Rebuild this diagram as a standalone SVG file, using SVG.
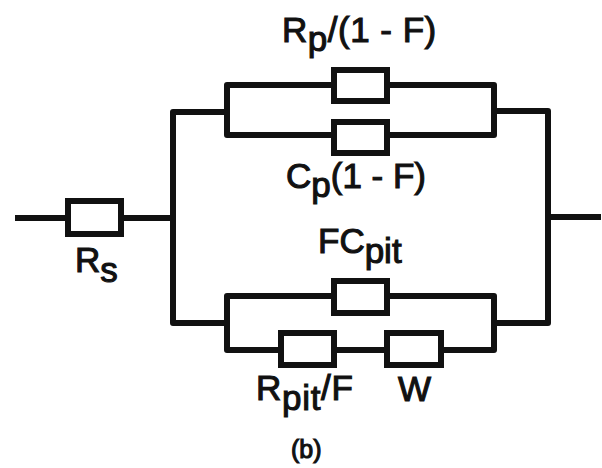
<svg xmlns="http://www.w3.org/2000/svg" width="602" height="468" viewBox="0 0 602 468">
<style>
.w{fill:none;stroke:#111;stroke-width:6;stroke-linejoin:round;stroke-linecap:butt}
.b{fill:#fff;stroke:#111;stroke-width:6}
text{font-family:"Liberation Sans",Arial,sans-serif;fill:#111;stroke:#111;stroke-width:1.1px}
.l{font-size:35px}
</style>
<rect width="602" height="468" fill="#fff"/>
<g id="connectors">
<path class="w" stroke-linecap="round" d="M15 218H68M121 218H173"/>
<path class="w" d="M227 112H173V323H227"/>
<path class="w" d="M334 85H227V135H334M387 85H494V135H387"/>
<path class="w" d="M494 111H548V323H494M548 217H601"/>
<path class="w" d="M334 296H227V350H281M334 350H387M441 350H494V296H387"/>
</g>
<g id="Rs"><rect class="b" x="68" y="201" width="53" height="33"/><text class="l" x="75" y="272">R<tspan dy="10">s</tspan></text></g>
<g id="Rp"><rect class="b" x="334" y="70" width="53" height="31"/><text class="l" x="282" y="42" letter-spacing="0.5">R<tspan dy="9">p</tspan><tspan dy="-9">/(1 - F)</tspan></text></g>
<g id="Cp"><rect class="b" x="334" y="122" width="53" height="31"/><text class="l" x="286" y="188">C<tspan dy="9">p</tspan><tspan dy="-9">(1 - F)</tspan></text></g>
<g id="FCpit"><rect class="b" x="334" y="281" width="53" height="32"/><text class="l" x="318" y="253">FC<tspan dy="10">pit</tspan></text></g>
<g id="Rpit"><rect class="b" x="281" y="333" width="53" height="32"/><text class="l" x="256" y="400" letter-spacing="0.7">R<tspan dy="10">pit</tspan><tspan dy="-10">/F</tspan></text></g>
<g id="W"><rect class="b" x="387" y="333" width="54" height="32"/><text class="l" x="398" y="401">W</text></g>
<text x="291" y="458" font-size="25">(b)</text>
</svg>
